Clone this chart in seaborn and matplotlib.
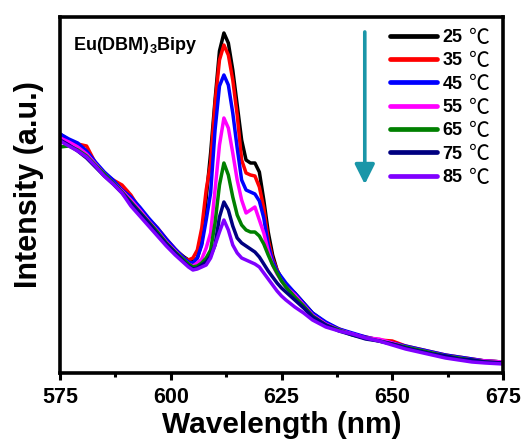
import matplotlib
matplotlib.use("Agg")
import matplotlib.pyplot as plt
from matplotlib.lines import Line2D
from matplotlib.ticker import AutoMinorLocator
import numpy as np
import pandas as pd
import seaborn as sns

# Emission spectra of Eu(DBM)3Bipy at rising temperature
wavelength = [575, 577, 579, 581, 583, 585, 587, 589, 591, 593, 595, 597, 599, 601, 603,
              604, 605, 606, 607, 608, 609, 610, 611, 612, 613, 614, 615, 616, 617, 618,
              619, 620, 621, 622, 623, 624, 625, 626,
              628, 630, 632,
              635, 638, 641, 644, 647, 650, 653, 656, 659, 662, 665, 668, 671, 675]

temps = ["25", "35", "45", "55", "65", "75", "85"]

i_25 = [239, 233, 227, 218, 208, 200, 191, 183, 173, 162, 153, 143, 132, 123, 116,
        113, 111, 115, 130, 175, 220, 273, 322, 340, 330, 303, 268, 233, 213, 210,
        210, 201, 173, 141, 118, 103, 94, 87,
        80, 70, 60,
        50, 43, 39, 35, 33, 30, 26, 23, 20, 17, 15, 13, 12, 11]
i_35 = [238, 232, 229, 227, 210, 199, 193, 188, 178, 164, 154, 145, 134, 124, 115,
        113, 115, 123, 145, 183, 210, 270, 313, 328, 318, 293, 258, 213, 200, 198,
        197, 186, 165, 133, 114, 103, 94, 88,
        79, 69, 59,
        50, 44, 39, 36, 33, 32, 27, 24, 21, 18, 16, 14, 12, 11]
i_45 = [239, 234, 230, 222, 211, 201, 193, 183, 176, 166, 155, 145, 134, 124, 115,
        111, 110, 115, 128, 153, 180, 243, 287, 298, 288, 260, 225, 193, 183, 181,
        179, 172, 155, 128, 112, 102, 96, 90,
        80, 70, 60,
        51, 44, 40, 36, 33, 30, 27, 24, 21, 18, 16, 14, 12, 11]
i_55 = [235, 231, 226, 219, 209, 199, 190, 182, 173, 163, 152, 142, 131, 122, 113,
        109, 107, 110, 114, 125, 140, 183, 228, 255, 245, 220, 193, 173, 160, 163,
        166, 153, 140, 122, 108, 99, 92, 86,
        78, 68, 58,
        49, 43, 39, 35, 34, 30, 26, 23, 20, 17, 15, 13, 12, 11]
i_65 = [226, 227, 223, 217, 208, 199, 190, 181, 171, 161, 151, 141, 130, 121, 113,
        109, 106, 107, 110, 115, 123, 150, 188, 210, 198, 176, 158, 148, 143, 141,
        141, 137, 129, 118, 108, 100, 92, 86,
        76, 67, 57,
        48, 43, 38, 35, 32, 29, 26, 23, 20, 17, 15, 13, 11, 10]
i_75 = [233, 228, 222, 215, 206, 197, 189, 180, 170, 160, 150, 139, 129, 120, 111,
        107, 104, 105, 108, 111, 117, 128, 156, 171, 163, 147, 135, 130, 127, 124,
        121, 116, 109, 102, 96, 90, 85, 81,
        73, 65, 56,
        48, 42, 38, 34, 32, 29, 25, 22, 19, 17, 14, 13, 11, 10]
i_85 = [232, 227, 222, 216, 207, 197, 189, 180, 167, 157, 147, 137, 127, 118, 110,
        106, 103, 104, 106, 108, 115, 128, 141, 153, 143, 128, 120, 115, 113, 111,
        109, 106, 100, 94, 88, 82, 77, 73,
        66, 60, 53,
        46, 42, 39, 35, 32, 28, 24, 21, 18, 15, 13, 11, 10, 9]

colors = ["#000000", "#ff0000", "#0000ff", "#ff00ff", "#008000", "#000080", "#8000ff"]

series = [i_25, i_35, i_45, i_55, i_65, i_75, i_85]
df = pd.concat(
    [pd.DataFrame({"Wavelength": wavelength, "Intensity": s, "T": t})
     for t, s in zip(temps, series)],
    ignore_index=True,
)

sns.set_style("white")
plt.rcParams["font.family"] = ["Liberation Sans", "DejaVu Sans"]
plt.rcParams["text.color"] = "black"
plt.rcParams["axes.labelcolor"] = "black"
plt.rcParams["xtick.color"] = "black"
plt.rcParams["ytick.color"] = "black"
plt.rcParams["mathtext.fontset"] = "custom"
plt.rcParams["mathtext.bf"] = "Liberation Sans:bold"
plt.rcParams["mathtext.rm"] = "Liberation Sans"

fig, ax = plt.subplots(figsize=(5.24, 4.46), dpi=100)
fig.subplots_adjust(left=60 / 524, right=503 / 524, top=1 - 17 / 446, bottom=1 - 373 / 446)

sns.lineplot(data=df, x="Wavelength", y="Intensity", hue="T", hue_order=temps,
             palette=colors, linewidth=2.5, estimator=None, sort=False,
             legend=False, ax=ax)

ax.set_xlim(575, 675)
ax.set_ylim(0, 356)
ax.set_xticks([575, 600, 625, 650, 675])
ax.xaxis.set_minor_locator(AutoMinorLocator(2))
ax.set_yticks([])
ax.tick_params(axis="x", which="major", direction="out", length=5, width=2.2,
               labelsize=15.5, pad=5, bottom=True, colors="black")
ax.tick_params(axis="x", which="minor", direction="out", length=3, width=2.2, bottom=True)
for lab in ax.get_xticklabels():
    lab.set_fontweight("bold")
for sp in ax.spines.values():
    sp.set_linewidth(2.6)
    sp.set_color("black")

ax.set_xlabel("Wavelength (nm)", fontsize=21.5, fontweight="bold", labelpad=2)
ax.set_ylabel("Intensity (a.u.)", fontsize=22, fontweight="bold")
ax.yaxis.set_label_coords(-0.035, 0.53)

ax.text(0.029, 0.907, r"Eu(DBM)$_{\mathbf{3}}$Bipy", fontsize=13, fontweight="bold",
        transform=ax.transAxes, va="baseline")

# Temperature legend, with the degree sign set in a lighter face
handles = [Line2D([], [], color=c, lw=3.4) for c in colors]
leg = ax.legend(handles, temps, loc="upper left", bbox_to_anchor=(0.745, 0.966),
                frameon=False, borderpad=0, borderaxespad=0, handlelength=2.6,
                handletextpad=0.3, labelspacing=0.35,
                prop={"weight": "bold", "size": 13})

ax.annotate("", xy=(0.688, 0.53), xytext=(0.688, 0.958), xycoords="axes fraction",
            arrowprops=dict(arrowstyle="-|>,head_length=1.2,head_width=0.6",
                            color="#1a96a8", lw=2.6, shrinkA=0, shrinkB=0))

fig.canvas.draw()
W, H = fig.canvas.get_width_height()
for t in leg.get_texts():
    bb = t.get_window_extent()
    fig.text((bb.x1 + 7) / W, (bb.y0 + bb.y1) / 2 / H, "\u2103", fontsize=15,
             family=["Noto Sans CJK SC", "DejaVu Sans"], va="center", ha="left")

fig.savefig("out.png", dpi=100)
